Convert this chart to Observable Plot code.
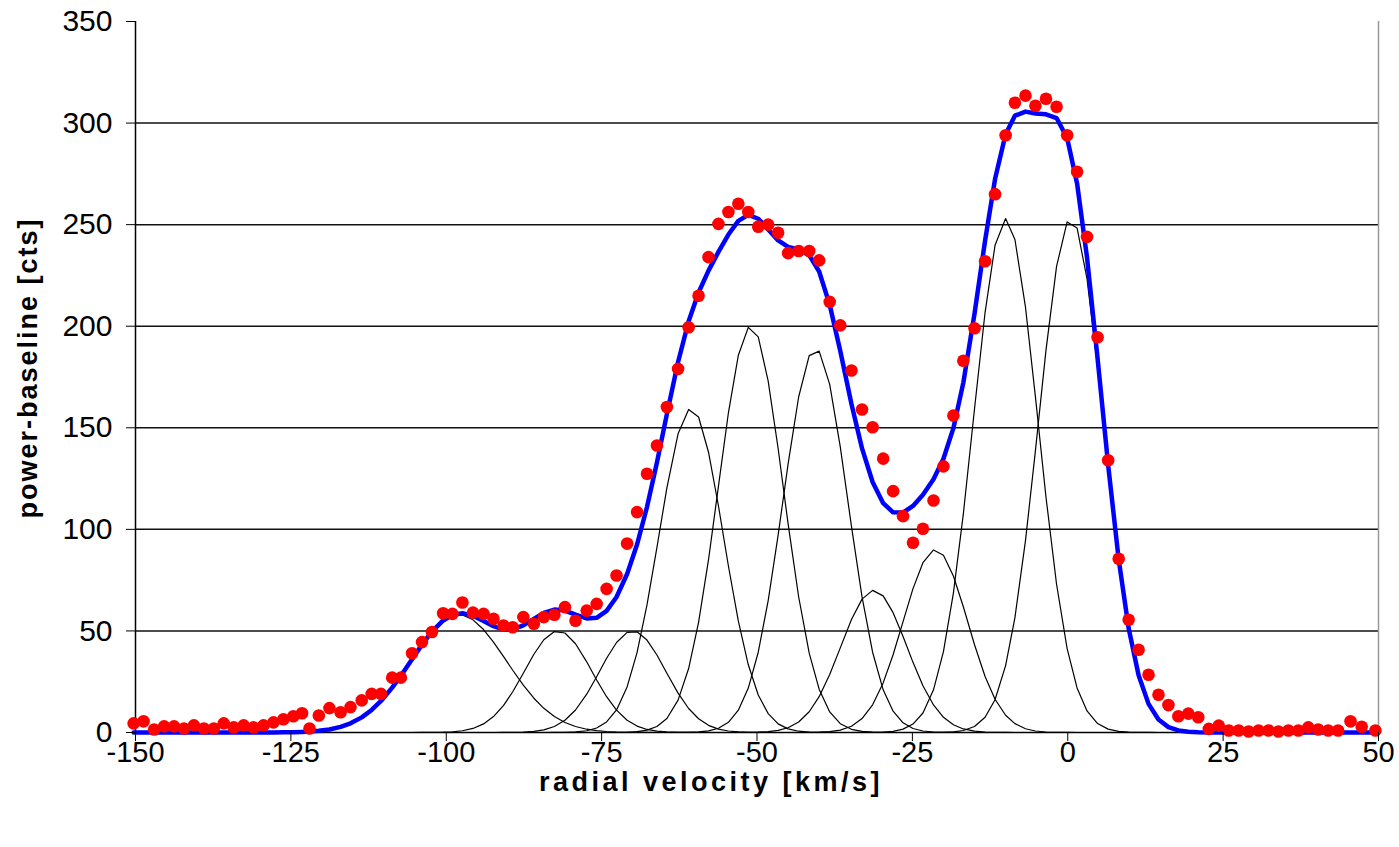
<!DOCTYPE html>
<html><head><meta charset="utf-8">
<script src="https://cdn.jsdelivr.net/npm/d3@7"></script>
<script src="https://cdn.jsdelivr.net/npm/@observablehq/plot@0.6"></script>
<style>
html,body{margin:0;padding:0;background:#fff;}
#chart svg{display:block;}
</style></head><body><div id="chart"></div>
<script>
// measured spectrum: radial velocity [km/s] and power-baseline [cts]
const velocity = [
 -150.3,-148.7,-147.0,-145.4,-143.8,-142.2,-140.6,-139.0,-137.4,-135.8,
 -134.2,-132.6,-131.0,-129.4,-127.8,-126.2,-124.6,-123.2,-122.0,-120.5,
 -118.8,-117.0,-115.4,-113.6,-112.0,-110.5,-108.7,-107.3,-105.5,-103.9,
 -102.3,-100.5,-99.0,-97.4,-95.7,-94.0,-92.4,-90.8,-89.3,-87.6,
 -85.9,-84.3,-82.6,-80.9,-79.2,-77.4,-75.8,-74.2,-72.6,-70.9,
 -69.3,-67.7,-66.1,-64.5,-62.7,-61.0,-59.4,-57.8,-56.2,-54.6,
 -53.0,-51.4,-49.8,-48.2,-46.6,-45.0,-43.3,-41.6,-40.0,-38.3,
 -36.6,-34.8,-33.1,-31.4,-29.7,-28.1,-26.5,-24.9,-23.3,-21.6,
 -20.0,-18.4,-16.8,-15.0,-13.3,-11.7,-10.0,-8.5,-6.8,-5.2,
 -3.5,-1.8,-0.1,1.5,3.1,4.8,6.5,8.2,9.8,11.4,
 13.0,14.6,16.2,17.8,19.4,21.0,22.7,24.3,25.9,27.5,
 29.1,30.7,32.3,33.9,35.5,37.1,38.7,40.3,41.9,43.5,
 45.5,47.3,49.5
];
const counts = [
 4.5,5.5,1.5,3,3,2,3.5,2,2,4.5,
 2.5,3.5,2.5,3.5,5,6.5,8,9.5,2,8.4,
 12,10,12.5,15.8,19,19,27,27,39,44.5,
 49.5,58.7,58.4,64,59,58.4,56,52.7,51.8,56.8,
 53.5,56.8,58,61.7,55,60,63.3,70.7,77.3,93,
 108.5,127.4,141.3,160.2,179,199.5,215,234,250.4,256.2,
 260.3,256.2,249,250,246,236,237,237,232.4,212,
 200.4,178.2,159,150.3,134.8,118.8,106.5,93.4,100.3,114.2,
 131,156,183,199,232,265,294,310,313.5,308.5,
 312,308,294,276,244,194.6,134,85.5,55.5,40.7,
 28.4,18.6,13.5,8,9.3,7.5,1.8,3.4,1,1,
 0.5,1,1,0.5,1,1,2.5,1.5,1,1,
 5.5,2.8,1
];
// Gaussian components: centre, peak height, width (sigma)
const componentCenter    = [-98, -82, -70, -60.6, -51, -40.6, -31.2, -21.3, -10, 0.5];
const componentAmplitude = [58, 50, 50, 159.5, 200, 189, 70, 90, 253, 253];
const componentSigma     = [7.7, 5.4, 5.3, 5.2, 5.2, 5.2, 5.3, 5.2, 5.2, 5.2];

const xTicks = [-150, -125, -100, -75, -50, -25, 0, 25, 50];
const yTicks = [0, 50, 100, 150, 200, 250, 300, 350];
const gridValues = [50, 100, 150, 200, 250, 300];
const xTitle = "radial velocity [km/s]";
const yTitle = "power-baseline [cts]";

const measured = velocity.map((v, i) => ({v, c: counts[i]}));
const gauss = (v, j) => componentAmplitude[j] * Math.exp(-((v - componentCenter[j]) ** 2) / (2 * componentSigma[j] ** 2));
const comps = [];
componentCenter.forEach((c0, j) => velocity.forEach(v => comps.push({j, v, c: gauss(v, j)})));
const fit = velocity.map(v => ({v, c: d3.sum(componentCenter, (c0, j) => gauss(v, j))}));

const plot = Plot.plot({
  width: 1399, height: 847,
  marginLeft: 135, marginRight: 21, marginTop: 21, marginBottom: 115,
  style: {fontFamily: "'Liberation Sans', Arial, sans-serif", background: "#fff", color: "#000", overflow: "visible"},
  x: {domain: [-150, 50]},
  y: {domain: [0, 350]},
  marks: [
    Plot.ruleY(gridValues, {stroke: "#111", strokeWidth: 1.5}),
    Plot.ruleX([50], {stroke: "#999", strokeWidth: 1.5}),
    Plot.line(comps, {x: "v", y: "c", z: "j", stroke: "#000", strokeWidth: 1.2}),
    Plot.ruleY([0], {stroke: "#000", strokeWidth: 1.5}),
    Plot.ruleX([-150], {stroke: "#000", strokeWidth: 1.5}),
    Plot.line(fit, {x: "v", y: "c", stroke: "#0000ff", strokeWidth: 4.5}),
    Plot.dot(measured, {x: "v", y: "c", r: 6.3, fill: "#ff0000"}),
    Plot.axisX({ticks: xTicks, tickSize: 9, tickPadding: 0, fontSize: 29, label: null, tickFormat: d => String(d)}),
    Plot.axisY({ticks: yTicks, tickSize: 9, tickPadding: 14, fontSize: 30, label: null, tickFormat: d => String(d)}),
    Plot.text([xTitle], {frameAnchor: "bottom", textAnchor: "middle", lineAnchor: "bottom", dx: -46, dy: 58, fontSize: 27, fontWeight: "bold"}),
    Plot.text([yTitle], {frameAnchor: "left", textAnchor: "middle", lineAnchor: "middle", dx: -107, dy: -9, rotate: -90, fontSize: 27, fontWeight: "bold"})
  ]
});
d3.select(plot).selectAll("text").each(function () {
  if (this.textContent === xTitle) this.style.letterSpacing = "3.5px";
  if (this.textContent === yTitle) this.style.letterSpacing = "2px";
});
document.getElementById("chart").appendChild(plot);
</script></body></html>
